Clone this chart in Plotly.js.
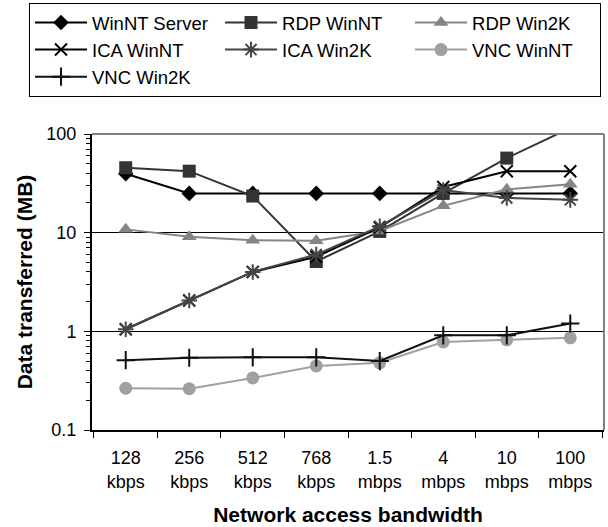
<!DOCTYPE html>
<html>
<head>
<meta charset="utf-8">
<script src="https://cdn.plot.ly/plotly-3.0.1.min.js"></script>
<style>html,body{margin:0;padding:0;background:#fff;}#chart{width:608px;height:527px;}</style>
</head>
<body>
<div id="chart"></div>
<script>
const categories = ["128<br>kbps","256<br>kbps","512<br>kbps","768<br>kbps","1.5<br>mbps","4<br>mbps","10<br>mbps","100<br>mbps"];
const winntServer = [39.5, 25, 25, 25, 25, 25, 25, 25];
const rdpWinNT = [45.5, 42, 23.5, 5.1, 10.3, 25, 57, 115];
const rdpWin2K = [10.8, 9.1, 8.4, 8.3, 10.4, 18.7, 27.5, 31];
const icaWinNT = [1.05, 2.05, 4.0, 5.7, 11.3, 29, 42, 42];
const icaWin2K = [1.05, 2.05, 4.0, 6.0, 11.6, 27, 22.5, 21.5];
const vncWinNT = [0.265, 0.262, 0.337, 0.446, 0.48, 0.78, 0.82, 0.86];
const vncWin2K = [0.51, 0.54, 0.545, 0.545, 0.50, 0.91, 0.91, 1.2];
const yTickVals = [0.1, 1, 10, 100];
const yTickText = ["0.1", "1", "10", "100"];

const minorVals = [];
[0.1, 1, 10].forEach(function (d) { for (let k = 2; k <= 9; k++) minorVals.push(+(d * k).toPrecision(3)); });

function tr(name, y, color, symbol, size, open) {
  const m = {symbol: symbol, size: size, color: color};
  if (open) m.line = {color: color, width: 2};
  return {x: categories, y: y, name: name, type: 'scatter', mode: 'lines+markers',
    line: {color: color, width: 2}, marker: m, cliponaxis: true};
}
const data = [
  tr("WinNT Server", winntServer, "#000000", "diamond", 12, false),
  tr("RDP WinNT", rdpWinNT, "#333333", "square", 13, false),
  tr("RDP Win2K", rdpWin2K, "#858585", "triangle-up", 13, false),
  tr("ICA WinNT", icaWinNT, "#000000", "x-thin-open", 12, true),
  tr("ICA Win2K", icaWin2K, "#454545", "asterisk-open", 13, true),
  tr("VNC WinNT", vncWinNT, "#a0a0a0", "circle", 13, false),
  tr("VNC Win2K", vncWin2K, "#111111", "cross-thin-open", 13, true)
];
const font = "Liberation Sans, Arial, sans-serif";
const layout = {
  width: 608, height: 527,
  margin: {l: 92, r: 4, t: 133, b: 97, pad: 0},
  paper_bgcolor: "#fff", plot_bgcolor: "#fff",
  font: {family: font, size: 18, color: "#000"},
  showlegend: true,
  legend: {orientation: "h", x: -0.123, y: 1.4377, xanchor: "left", yanchor: "top",
    bordercolor: "#000", borderwidth: 1, font: {family: font, size: 18.5, color: "#000"},
    entrywidth: 123, itemwidth: 52, traceorder: "normal"},
  xaxis: {type: "category", tickson: "boundaries", ticks: "outside", ticklen: 6,
    tickcolor: "#000", showline: true, linecolor: "#000", linewidth: 1.5, showgrid: false,
    tickfont: {family: font, size: 18}, zeroline: false, ticklabelstandoff: 11,
    title: {text: "<b>Network access bandwidth</b>", font: {family: font, size: 21}, standoff: 17}},
  yaxis: {type: "log", range: [-1, 2], tickvals: yTickVals, ticktext: yTickText,
    ticks: "outside", ticklen: 6, tickcolor: "#000", showline: true, linecolor: "#000", linewidth: 2,
    showgrid: true, gridcolor: "#000", gridwidth: 1, zeroline: false, ticklabelstandoff: 4,
    minor: {tickvals: minorVals, ticks: "outside", ticklen: 4, tickcolor: "#000", showgrid: false},
    tickfont: {family: font, size: 18},
    title: {text: "<b>Data transferred (MB)</b>", font: {family: font, size: 21}, standoff: 8}},
  shapes: [
    {type: "line", xref: "paper", yref: "paper", x0: 0, x1: 1, y0: 1, y1: 1, line: {color: "#808080", width: 2}},
    {type: "line", xref: "paper", yref: "paper", x0: 1, x1: 1, y0: 0, y1: 1, line: {color: "#808080", width: 2}}
  ]
};
Plotly.newPlot("chart", data, layout, {displayModeBar: false, staticPlot: true});
</script>
</body>
</html>
